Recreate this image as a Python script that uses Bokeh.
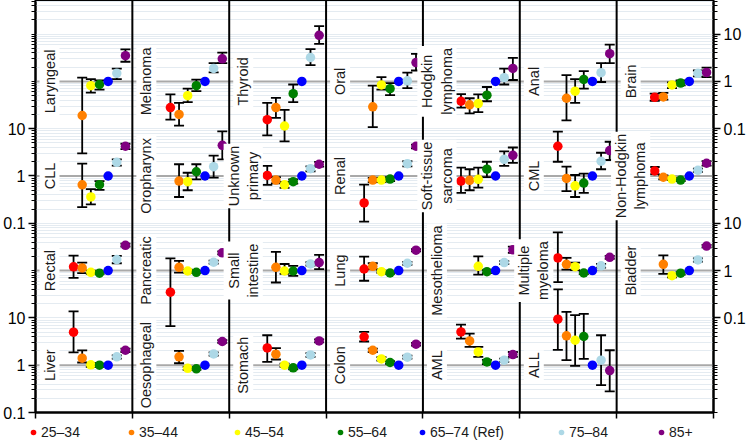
import math
from bokeh.plotting import figure
from bokeh.layouts import column
from bokeh.models import (Range1d, LinearAxis, FixedTicker, CustomJSTickFormatter,
                          Label, Span, Legend, LegendItem)
from bokeh.embed import file_html
from bokeh.resources import INLINE

# ---------------- data ----------------
cancers = ["Laryngeal", "Melanoma", "Thyroid", "Oral", "Hodgkin\nlymphoma", "Anal", "Brain",
           "CLL", "Oropharynx", "Unknown\nprimary", "Renal", "Soft-tissue\nsarcoma", "CML", "Non-Hodgkin\nlymphoma",
           "Rectal", "Pancreatic", "Small\nintestine", "Lung", "Mesothelioma", "Multiple\nmyeloma", "Bladder",
           "Liver", "Oesophageal", "Stomach", "Colon", "AML", "ALL"]
age_groups = ["25–34", "35–44", "45–54", "55–64", "65–74 (Ref)", "75–84", "85+"]
colors = ["#ff0000", "#ff8000", "#ffff00", "#008000", "#0000ff", "#add8e6", "#800080"]
N = None

or_25_34 = [N, 0.28, 0.155, N, 0.38, N, 0.46,
            N, N, 1.03, 0.27, 0.78, 4.25, 1.28,
            1.2, 0.35, N, 1.08, N, 1.85, N,
            5.0, N, 2.32, 3.97, 5.06, 9.4]
lo_25_34 = [N, 0.155, 0.072, N, 0.28, N, 0.39,
            N, N, 0.65, 0.108, 0.44, 2.0, 1.09,
            0.70, 0.067, N, 0.61, N, 0.57, N,
            1.86, N, 1.17, 3.17, 3.66, 2.1]
hi_25_34 = [N, 0.53, 0.35, N, 0.54, N, 0.55,
            N, N, 1.63, 0.655, 1.5, 8.7, 1.55,
            2.07, 1.82, N, 1.98, N, 6.4, N,
            13.8, N, 4.3, 5.06, 7.2, 40.0]

or_35_44 = [0.19, 0.20, 0.28, 0.29, 0.32, 0.44, 0.47,
            0.65, 0.78, 0.82, 0.82, 0.81, 0.89, 0.94,
            1.14, 1.17, 1.17, 1.23, N, 1.36, 1.36,
            1.41, 1.5, 1.71, 2.07, 3.26, 4.17]
lo_35_44 = [0.03, 0.116, 0.17, 0.108, 0.21, 0.15, 0.41,
            0.22, 0.36, 0.70, 0.74, 0.50, 0.48, 0.85,
            0.88, 0.91, 0.56, 1.07, N, 1.05, 0.85,
            1.14, 1.1, 1.32, 1.9, 2.44, 1.28]
hi_35_44 = [1.2, 0.35, 0.45, 0.81, 0.44, 1.36, 0.57,
            1.82, 1.77, 0.95, 0.91, 1.39, 1.57, 1.03,
            1.48, 1.6, 2.48, 1.43, N, 1.85, 2.1,
            2.05, 2.0, 2.29, 2.25, 4.67, 13.4]

or_45_54 = [0.81, 0.50, 0.114, 0.84, 0.34, 0.62, 0.84,
            0.36, 0.76, 0.65, 0.82, 0.85, 0.62, 0.86,
            0.92, 0.98, 0.98, 0.95, 1.23, 1.21, 0.78,
            1.02, 0.86, 1.0, 1.36, 1.91, 3.37]
lo_45_54 = [0.58, 0.365, 0.054, 0.67, 0.225, 0.35, 0.72,
            0.25, 0.50, 0.56, 0.74, 0.57, 0.36, 0.82,
            0.85, 0.92, 0.85, 0.90, 0.82, 1.02, 0.72,
            0.92, 0.80, 0.92, 1.25, 1.5, 0.97]
hi_45_54 = [1.12, 0.70, 0.25, 1.23, 0.53, 1.12, 0.95,
            0.53, 1.17, 0.75, 0.91, 1.5, 1.05, 0.91,
            1.0, 1.05, 1.38, 1.0, 2.0, 1.48, 0.85,
            1.12, 0.92, 1.08, 1.48, 2.44, 11.4]

or_55_64 = [0.86, 0.81, 0.55, 0.70, 0.51, 1.10, 0.92,
            0.655, 1.23, 0.76, 0.86, 1.39, 0.71, 0.82,
            0.88, 0.92, 0.98, 0.89, 0.95, 0.89, 0.88,
            1.0, 0.84, 0.88, 1.14, 1.17, 4.04]
lo_55_64 = [0.67, 0.62, 0.365, 0.51, 0.38, 0.70, 0.82,
            0.51, 0.85, 0.69, 0.78, 0.95, 0.44, 0.78,
            0.84, 0.88, 0.77, 0.85, 0.88, 0.84, 0.82,
            0.92, 0.80, 0.82, 1.07, 1.05, 1.36]
hi_55_64 = [1.05, 1.09, 0.86, 0.92, 0.76, 1.65, 1.05,
            0.78, 1.77, 0.85, 0.94, 2.0, 1.12, 0.87,
            0.92, 0.97, 1.26, 0.93, 1.02, 0.95, 0.93,
            1.08, 0.90, 0.94, 1.22, 1.3, 12.2]

or_65_74 = [1.0, 1.0, 1.0, 1.0, 1.0, 1.0, 1.0,
            1.0, 1.0, 1.0, 1.0, 1.0, 1.0, 1.0,
            1.0, 1.0, 1.0, 1.0, 1.0, 1.0, 1.0,
            1.0, 1.0, 1.0, 1.0, 1.0, 1.0]

or_75_84 = [1.48, 1.88, 3.2, 1.03, 1.2, 1.53, 1.48,
            1.95, 1.57, 1.43, 1.82, 2.25, 2.05, 1.32,
            1.71, 1.5, 1.38, 1.43, 1.48, 1.26, 1.68,
            1.5, 1.73, 1.65, 1.48, 1.28, 1.28]
lo_75_84 = [1.12, 1.55, 2.2, 0.72, 0.86, 0.97, 1.28,
            1.65, 0.92, 1.26, 1.6, 1.63, 1.39, 1.22,
            1.43, 1.4, 1.28, 1.33, 1.38, 1.15, 1.55,
            1.38, 1.6, 1.5, 1.38, 1.18, 0.38]
hi_75_84 = [1.86, 2.44, 4.8, 1.53, 1.86, 2.44, 1.7,
            2.25, 2.7, 1.6, 2.05, 3.3, 3.1, 1.43,
            2.05, 1.62, 1.5, 1.53, 1.58, 1.38, 1.82,
            1.62, 1.86, 1.8, 1.6, 1.38, 4.3]

or_85 = [3.5, 3.0, 9.4, 2.5, 1.88, 3.85, 1.55,
         4.25, 4.45, 1.77, 4.25, 2.74, 3.45, 1.86,
         3.43, 2.37, 1.48, 2.7, 2.75, 1.91, 3.3,
         2.07, 3.17, 3.26, 2.78, 1.68, 0.77]
lo_85 = [2.6, 2.44, 6.2, 1.7, 1.07, 2.44, 1.23,
         3.7, 2.25, 1.57, 3.85, 1.9, 2.18, 1.65,
         3.2, 2.2, 1.07, 2.55, 2.37, 1.78, 3.1,
         1.9, 2.95, 3.05, 2.6, 1.5, 0.28]
hi_85 = [4.75, 4.05, 14.7, 3.8, 3.15, 6.0, 1.95,
         4.8, 8.8, 1.98, 4.6, 4.0, 5.3, 2.07,
         3.7, 2.55, 2.15, 2.85, 3.2, 2.05, 3.5,
         2.25, 3.4, 3.5, 2.95, 1.9, 2.07]

series = [(or_25_34, lo_25_34, hi_25_34), (or_35_44, lo_35_44, hi_35_44),
          (or_45_54, lo_45_54, hi_45_54), (or_55_64, lo_55_64, hi_55_64),
          (or_65_74, None, None), (or_75_84, lo_75_84, hi_75_84), (or_85, lo_85, hi_85)]

left_labels = {-1: "0.1", 0: "1", 1: "10", 3: "0.1", 4: "1", 5: "10"}
right_labels = {1: "0.1", 2: "1", 3: "10", 5: "0.1", 6: "1", 7: "10"}

# ---------------- layout ----------------
NCOL, NROW = 7, 4
W = 11.2          # panel width (x units)
X0 = 4.4          # first point offset inside a panel
Y_LO, Y_HI = -1.0, 7.71
FONT = "Liberation Sans"


def row_offset(r):
    return 2.0 * (NROW - 1 - r)


p = figure(width=748, height=420, output_backend="svg", toolbar_location=None,
           x_range=Range1d(0, NCOL * W), y_range=Range1d(Y_LO, Y_HI),
           min_border_left=0, min_border_right=35, min_border_top=0, min_border_bottom=8)
p.background_fill_color = "white"
p.border_fill_color = "white"
p.outline_line_color = "black"
p.outline_line_width = 2
p.frame_align = False

all_int = list(range(-1, 8))
log_minor = [d + math.log10(k) for d in range(-1, 8) for k in range(2, 10) if d + math.log10(k) < Y_HI]


def fmt(labels):
    js = "{" + ",".join('"%d":"%s"' % (k, v) for k, v in labels.items()) + "}"
    return CustomJSTickFormatter(code="const m=%s; const k=Math.round(tick);"
                                      " const s=m[String(k)];"
                                      " return s===undefined ? '' : s;" % js)


def style_y(ax, labels):
    majors = sorted(labels.keys())
    minors = log_minor + [t for t in all_int if t not in labels]
    ax.ticker = FixedTicker(ticks=majors, minor_ticks=minors)
    ax.formatter = fmt(labels)
    ax.major_label_text_font = FONT
    ax.major_label_text_font_size = "16px"
    ax.major_label_text_color = "black"
    ax.major_label_standoff = 3
    ax.major_tick_out = 7
    ax.major_tick_in = 0
    ax.minor_tick_out = 4
    ax.minor_tick_in = 0
    ax.axis_line_color = "black"
    ax.axis_line_width = 2
    ax.major_tick_line_width = 1.5
    ax.minor_tick_line_width = 1


style_y(p.yaxis[0], left_labels)
right_ax = LinearAxis()
style_y(right_ax, right_labels)
p.add_layout(right_ax, "right")

xa = p.xaxis[0]
xa.ticker = FixedTicker(ticks=[], minor_ticks=[c * W for c in range(NCOL + 1)])
xa.minor_tick_out = 6
xa.minor_tick_in = 0
xa.minor_tick_line_width = 1.5
xa.axis_line_color = "black"
xa.axis_line_width = 2

p.xgrid.visible = False
p.ygrid.ticker = FixedTicker(ticks=all_int + log_minor)
p.ygrid.grid_line_color = "#e4ebf1"
p.ygrid.grid_line_width = 1

# reference lines (OR = 1) per row
ref_y = [row_offset(r) for r in range(NROW)]
p.segment(x0=[0] * NROW, x1=[NCOL * W] * NROW, y0=ref_y, y1=ref_y,
          line_color="#a9a9a9", line_width=2)

# error bars
for gi, (vals, lo, hi) in enumerate(series):
    if lo is None:
        continue
    xs, ylo, yhi = [], [], []
    for k, v in enumerate(vals):
        if v is None:
            continue
        r, c = divmod(k, NCOL)
        off = row_offset(r)
        xs.append(c * W + X0 + gi)
        ylo.append(math.log10(lo[k]) + off)
        yhi.append(math.log10(hi[k]) + off)
    p.segment(x0=xs, x1=xs, y0=ylo, y1=yhi, line_color="black", line_width=1.8)
    p.scatter(x=xs + xs, y=ylo + yhi, marker="dash", size=10, line_color="black", line_width=1.8)

# points
for gi, (vals, lo, hi) in enumerate(series):
    xs, ys = [], []
    for k, v in enumerate(vals):
        if v is None:
            continue
        r, c = divmod(k, NCOL)
        xs.append(c * W + X0 + gi)
        ys.append(math.log10(v) + row_offset(r))
    p.scatter(x=xs, y=ys, size=9.5, fill_color=colors[gi], line_color=None)

# panel separators
for c in range(1, NCOL):
    p.add_layout(Span(location=c * W, dimension="height", line_color="black", line_width=2))

# panel labels
for k, name in enumerate(cancers):
    r, c = divmod(k, NCOL)
    p.add_layout(Label(x=c * W + 1.62, y=row_offset(r), text=name, angle=math.pi / 2,
                       text_align="center", text_baseline="middle",
                       text_font=FONT, text_font_size="14.5px", text_color="#1a1a1a",
                       background_fill_color="white", padding=2))

# ---------------- legend strip ----------------
lg = figure(width=748, height=24, output_backend="svg", toolbar_location=None,
            x_range=Range1d(0, 748), y_range=Range1d(0, 24),
            x_axis_type=None, y_axis_type=None, min_border=0)
lg.outline_line_color = None
lg.xgrid.visible = False
lg.ygrid.visible = False
lg.frame_align = False
leg_dot_x = [33, 131, 237, 340, 422, 561, 661]
for gi, name in enumerate(age_groups):
    # keyed dot (its single point sits outside the strip's visible range)
    rr = lg.scatter(x=[-50], y=[-50], size=6, fill_color=colors[gi], line_color=None)
    leg = Legend(items=[LegendItem(label=name, renderers=[rr])], location=(leg_dot_x[gi] - 7, 4),
                 orientation="horizontal", border_line_color=None, background_fill_alpha=0,
                 padding=0, margin=0, spacing=0, glyph_width=14, glyph_height=14,
                 label_standoff=1, label_text_font=FONT, label_text_font_size="14px",
                 label_text_color="#1a1a1a", label_height=14)
    lg.add_layout(leg)

layout = column(p, lg, spacing=0)
open("out.html", "w").write(file_html(layout, INLINE))
